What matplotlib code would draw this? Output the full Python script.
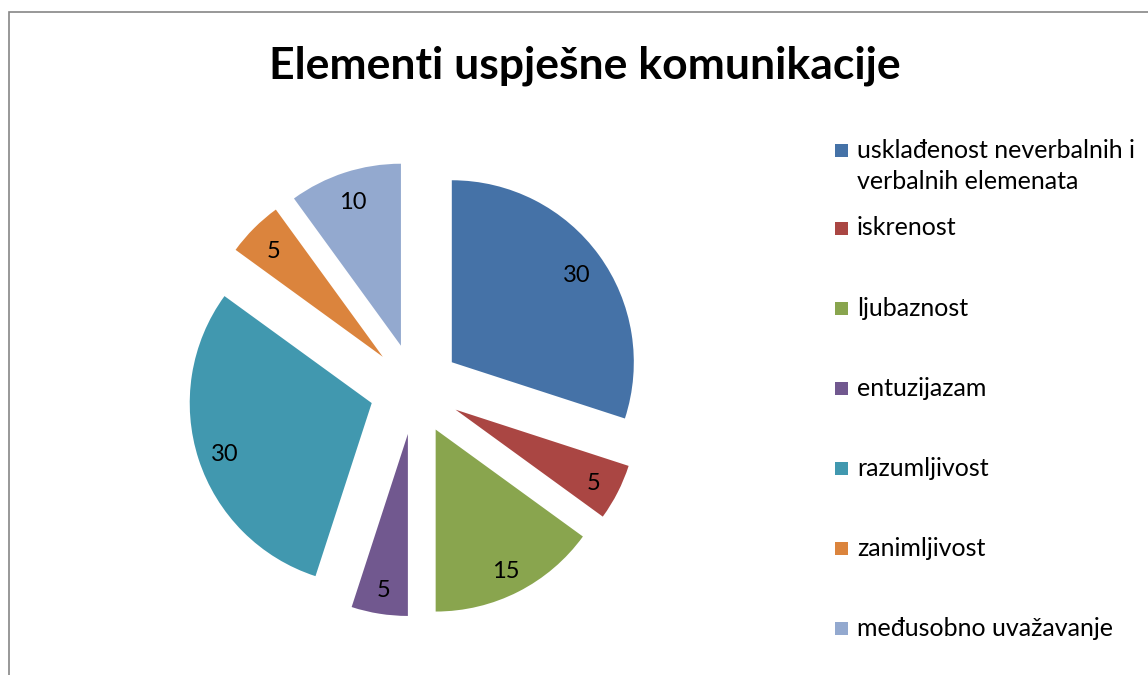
import matplotlib.pyplot as plt
from matplotlib.patches import Rectangle

plt.rcParams['font.family'] = ['Lato', 'DejaVu Sans']

# podaci
labels = ['usklađenost neverbalnih i\nverbalnih elemenata', 'iskrenost', 'ljubaznost',
          'entuzijazam', 'razumljivost', 'zanimljivost', 'međusobno uvažavanje']
values = [30, 5, 15, 5, 30, 5, 10]
colors = ['#4572A7', '#AA4643', '#89A54E', '#71588F', '#4198AF', '#DB843D', '#93A9CF']
title = 'Elementi uspješne komunikacije'

W, H = 1148, 675
fig = plt.figure(figsize=(W / 100, H / 100), dpi=100)

# pie axes: centre at (415, 389) px, radius 182 px
R = 182.0
cx, cy = 415.0, H - 389.0
ax = fig.add_axes([0, 0, 1, 1])
total = sum(values)
wedges, texts, autotexts = ax.pie(
    values, colors=colors, startangle=90, counterclock=False,
    explode=[0.25] * len(values), pctdistance=0.85,
    autopct=lambda p: f"{p * total / 100:.0f}",
    textprops={'fontsize': 17, 'color': 'black'})
for t in autotexts:
    x, y = t.get_position()
    t.set_position((x, y - 4 / R))
ax.set_xlim(-cx / R, (W - cx) / R)
ax.set_ylim(-cy / R, (H - cy) / R)
ax.set_aspect('auto')
ax.axis('off')

# okvir
fig.patches.append(Rectangle((9 / W, -0.1), 1.2, (H - 12) / H + 0.1,
                             transform=fig.transFigure, fill=False,
                             edgecolor='#868686', linewidth=1.2))

fig.text(585 / W, 1 - 66 / H, title, ha='center', va='center',
         fontsize=32, fontweight='bold')

# legenda
leg_y = [166, 228, 308, 388, 468, 548, 628]
for lab, col, y in zip(labels, colors, leg_y):
    if '\n' in lab:
        sq_y = 150
    else:
        sq_y = y
    fig.patches.append(Rectangle((835 / W, 1 - (sq_y + 7) / H), 13 / W, 13 / H,
                                 transform=fig.transFigure, facecolor=col,
                                 edgecolor='none'))
    fig.text(857 / W, 1 - y / H, lab, ha='left', va='center', fontsize=18,
             linespacing=1.45)

fig.savefig('out.png', dpi=100)
